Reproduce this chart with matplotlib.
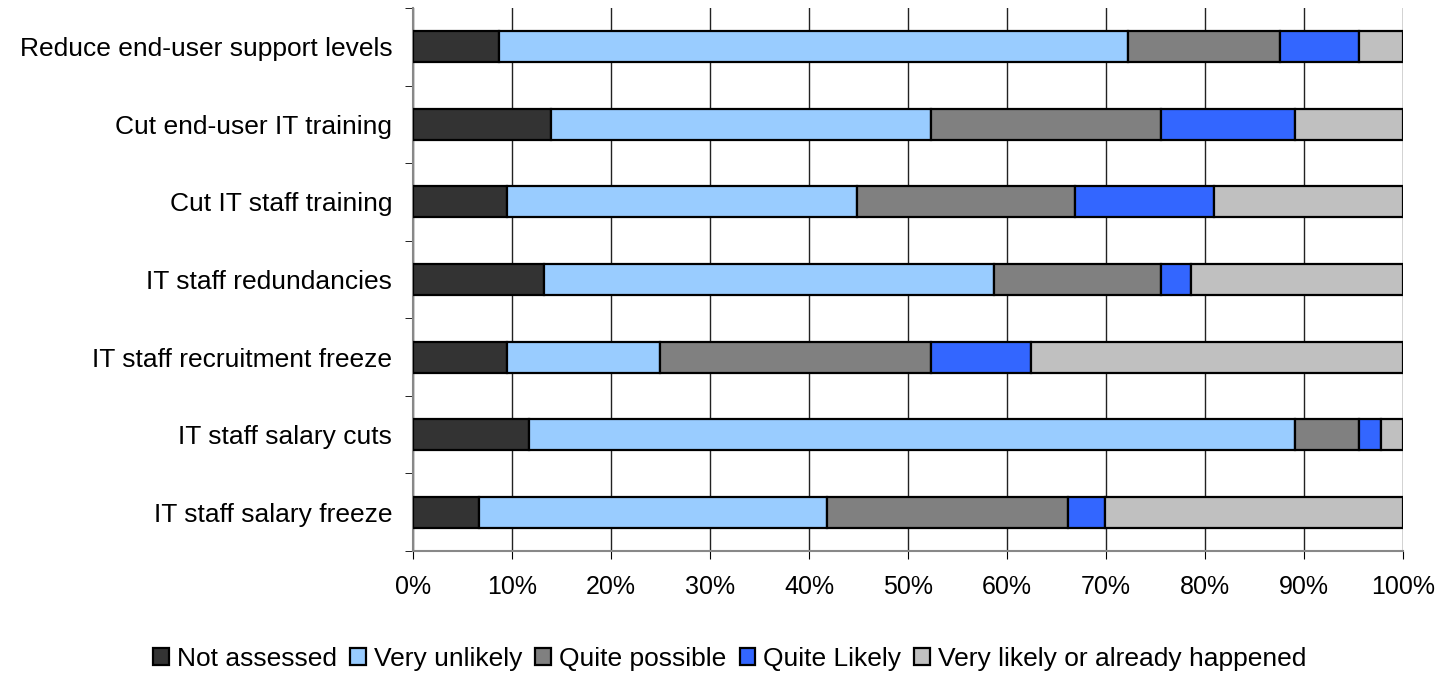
import matplotlib
matplotlib.use("Agg")
import matplotlib.pyplot as plt
import numpy as np

categories = [
    "Reduce end-user support levels",
    "Cut end-user IT training",
    "Cut IT staff training",
    "IT staff redundancies",
    "IT staff recruitment freeze",
    "IT staff salary cuts",
    "IT staff salary freeze",
]
series_names = ["Not assessed", "Very unlikely", "Quite possible", "Quite Likely",
                "Very likely or already happened"]
not_assessed = [8.7, 13.95, 9.5, 13.2, 9.5, 11.7, 6.7]
very_unlikely = [63.5, 38.35, 35.3, 45.5, 15.4, 77.4, 35.1]
quite_possible = [15.4, 23.3, 22.1, 16.9, 27.4, 6.5, 24.4]
quite_likely = [8.0, 13.5, 14.0, 3.0, 10.1, 2.2, 3.7]
very_likely = [4.4, 10.9, 19.1, 21.4, 37.6, 2.2, 30.1]
colors = ["#333333", "#99CCFF", "#808080", "#3366FF", "#C0C0C0"]
xtick_labels = ["0%", "10%", "20%", "30%", "40%", "50%", "60%", "70%", "80%", "90%", "100%"]

plt.rcParams['font.family'] = ['Liberation Sans', 'DejaVu Sans']

fig = plt.figure(figsize=(14.51, 6.73), dpi=100)
ax = fig.add_axes([413/1451, 1 - 551/673, (1403-413)/1451, (551-8)/673])

data = [not_assessed, very_unlikely, quite_possible, quite_likely, very_likely]
y = np.arange(len(categories))
left = np.zeros(len(categories))
handles = []
for vals, name, c in zip(data, series_names, colors):
    vals = np.array(vals)
    b = ax.barh(y, vals, left=left, height=0.4, color=c, edgecolor="black",
                linewidth=1.6, label=name, zorder=3)
    handles.append(b)
    left += vals

ax.set_xlim(0, 100)
ax.set_ylim(len(categories) - 0.5, -0.5)
ax.set_xticks(np.arange(0, 101, 10))
ax.set_xticklabels(xtick_labels, fontsize=18)
ax.set_yticks(y)
ax.set_yticklabels(categories, fontsize=19)
ax.tick_params(axis='y', length=0, pad=15)
ax.set_yticks(np.arange(-0.5, len(categories), 1), minor=True)
ax.tick_params(axis='y', which='minor', length=6, color="black", direction='out')
ax.tick_params(axis='x', length=6, direction='out', pad=11)
ax.xaxis.grid(True, color="#222222", linewidth=1, zorder=0)
ax.set_axisbelow(True)
for s in ["top", "right"]:
    ax.spines[s].set_visible(False)
ax.spines["left"].set_color("#888888")
ax.spines["left"].set_linewidth(1.5)
ax.spines["bottom"].set_color("#888888")
ax.spines["bottom"].set_linewidth(1.5)

fig.legend(handles=handles, labels=series_names, loc="center", bbox_to_anchor=(0.503, 1 - 659/673),
           ncol=5, frameon=False, fontsize=19, handlelength=0.6, handleheight=0.6,
           handletextpad=0.3, columnspacing=0.5)

fig.savefig("out.png", dpi=100)
